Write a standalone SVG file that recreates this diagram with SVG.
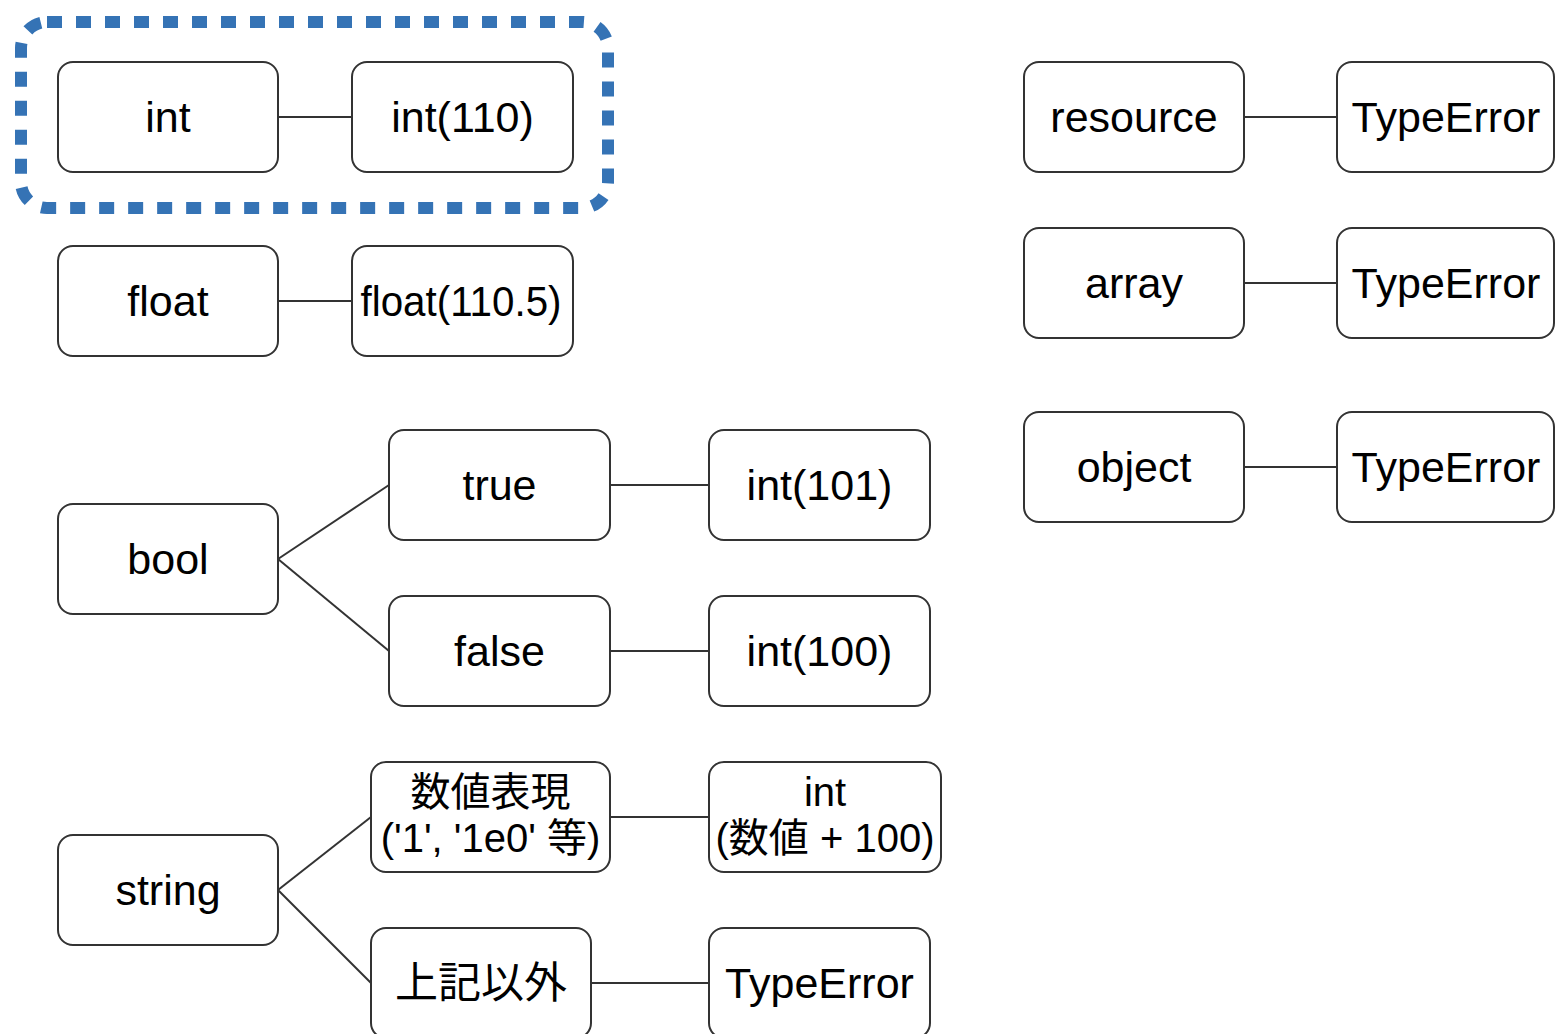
<svg xmlns="http://www.w3.org/2000/svg" width="1555" height="1034" viewBox="0 0 1555 1034">
<style>
.n rect{fill:#fff;stroke:#333;stroke-width:2}
.n text{font-family:"Liberation Sans","Noto Sans CJK JP",sans-serif;font-size:43px;fill:#000;text-anchor:middle}
.n text.s{font-size:40px}
#edges line{stroke:#333;stroke-width:2}
</style>
<rect id="highlight" x="21" y="22" width="587" height="186" rx="26" fill="none" stroke="#3573b5" stroke-width="12" stroke-dasharray="15 14"/>
<g id="edges">
<line x1="278" y1="117" x2="352" y2="117"/>
<line x1="278" y1="301" x2="352" y2="301"/>
<line x1="278" y1="559" x2="389" y2="485"/>
<line x1="278" y1="559" x2="389" y2="651"/>
<line x1="610" y1="485" x2="709" y2="485"/>
<line x1="610" y1="651" x2="709" y2="651"/>
<line x1="278" y1="890" x2="371" y2="817"/>
<line x1="278" y1="890" x2="371" y2="983"/>
<line x1="610" y1="817" x2="709" y2="817"/>
<line x1="591" y1="983" x2="709" y2="983"/>
<line x1="1244" y1="117" x2="1337" y2="117"/>
<line x1="1244" y1="283" x2="1337" y2="283"/>
<line x1="1244" y1="467" x2="1337" y2="467"/>
</g>
<g id="n-int" class="n"><rect x="58" y="62" width="220" height="110" rx="15"/><text x="168" y="132">int</text></g>
<g id="n-int110" class="n"><rect x="352" y="62" width="221" height="110" rx="15"/><text x="462.5" y="132">int(110)</text></g>
<g id="n-float" class="n"><rect x="58" y="246" width="220" height="110" rx="15"/><text x="168" y="316">float</text></g>
<g id="n-float1105" class="n"><rect x="352" y="246" width="221" height="110" rx="15"/><text x="461" y="316" textLength="201" lengthAdjust="spacingAndGlyphs">float(110.5)</text></g>
<g id="n-bool" class="n"><rect x="58" y="504" width="220" height="110" rx="15"/><text x="168" y="574">bool</text></g>
<g id="n-true" class="n"><rect x="389" y="430" width="221" height="110" rx="15"/><text x="499.5" y="500">true</text></g>
<g id="n-false" class="n"><rect x="389" y="596" width="221" height="110" rx="15"/><text x="499.5" y="666">false</text></g>
<g id="n-int101" class="n"><rect x="709" y="430" width="221" height="110" rx="15"/><text x="819.5" y="500">int(101)</text></g>
<g id="n-int100" class="n"><rect x="709" y="596" width="221" height="110" rx="15"/><text x="819.5" y="666">int(100)</text></g>
<g id="n-string" class="n"><rect x="58" y="835" width="220" height="110" rx="15"/><text x="168" y="905">string</text></g>
<g id="n-numeric" class="n"><rect x="371" y="762" width="239" height="110" rx="15"/><text class="s" x="490.5" y="806">数値表現</text><text class="s" x="490.5" y="852">('1', '1e0' 等)</text></g>
<g id="n-other" class="n"><rect x="371" y="928" width="220" height="110" rx="15"/><text x="481" y="998">上記以外</text></g>
<g id="n-intnum" class="n"><rect x="709" y="762" width="232" height="110" rx="15"/><text class="s" x="825" y="806">int</text><text class="s" x="825" y="852">(数値 + 100)</text></g>
<g id="n-typeerror-str" class="n"><rect x="709" y="928" width="221" height="110" rx="15"/><text x="819.5" y="998">TypeError</text></g>
<g id="n-resource" class="n"><rect x="1024" y="62" width="220" height="110" rx="15"/><text x="1134" y="132">resource</text></g>
<g id="n-typeerror-res" class="n"><rect x="1337" y="62" width="217" height="110" rx="15"/><text x="1446" y="132">TypeError</text></g>
<g id="n-array" class="n"><rect x="1024" y="228" width="220" height="110" rx="15"/><text x="1134" y="298">array</text></g>
<g id="n-typeerror-arr" class="n"><rect x="1337" y="228" width="217" height="110" rx="15"/><text x="1446" y="298">TypeError</text></g>
<g id="n-object" class="n"><rect x="1024" y="412" width="220" height="110" rx="15"/><text x="1134" y="482">object</text></g>
<g id="n-typeerror-obj" class="n"><rect x="1337" y="412" width="217" height="110" rx="15"/><text x="1446" y="482">TypeError</text></g>
</svg>
